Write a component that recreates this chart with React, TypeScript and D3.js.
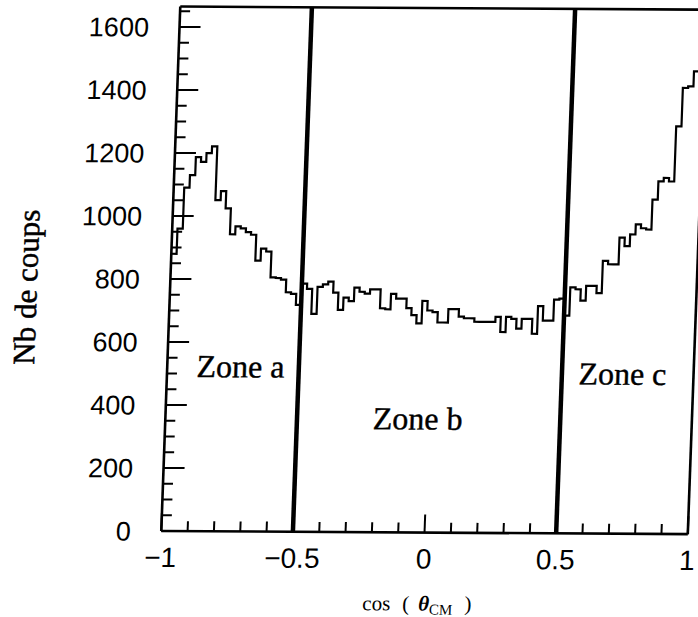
import * as d3 from 'd3';

// counts per bin of width 0.02 on cos(theta_CM), from -1 to 1
const counts = [
  880, 960, 1090, 1130, 1187, 1172, 1200, 1222, 1051, 1080,
  1025, 943, 968, 962, 950, 942, 860, 898, 889, 807,
  805, 800, 760, 755, 720, 788, 771, 692, 778, 786,
  795, 760, 705, 744, 733, 776, 763, 757, 771, 771,
  711, 708, 757, 742, 742, 712, 690, 664, 735, 705,
  700, 667, 667, 710, 710, 686, 681, 681, 670, 670,
  670, 670, 686, 638, 686, 680, 649, 680, 680, 633,
  721, 675, 675, 742, 745, 691, 781, 775, 739, 786,
  786, 763, 866, 855, 855, 940, 913, 950, 982, 970,
  966, 1061, 1119, 1130, 1119, 1294, 1416, 1421, 1469, 1480,
];
const binWidth = 0.02;
const xMajor = [-1, -0.5, 0, 0.5, 1];
const xMajorLabels = ['\u22121', '\u22120.5', '0', '0.5', '1'];
const yMajor = [0, 200, 400, 600, 800, 1000, 1200, 1400, 1600];
const zoneCuts = [-0.5, 0.5];
const zoneNames = ['Zone a', 'Zone b', 'Zone c'];

const W = 698;
const H = 617;

export default function App() {
  const x = d3.scaleLinear().domain([-1, 1]).range([180.5, 707]);
  const y = d3.scaleLinear().domain([0, 1665]).range([531, 6.5]);

  const pts: [number, number][] = counts.map((c, i) => [-1 + i * binWidth, c]);
  pts.push([1, counts[counts.length - 1]]);
  const line = d3
    .line<[number, number]>()
    .x((d) => x(d[0]))
    .y((d) => y(d[1]))
    .curve(d3.curveStepAfter);

  const yMinor = d3.range(0, 1651, 50).filter((v) => v % 200 !== 0);
  const xMinor = d3.range(-10, 11).map((i) => i / 10).filter((v) => Math.abs(v * 2 - Math.round(v * 2)) > 1e-6);

  const [x0, x1] = x.range();
  const [yb, yt] = y.range();

  // zone label anchors (data coords)
  const zonePos = [
    { cx: -0.888, cy: 489 },
    { cx: -0.212, cy: 327 },
    { cx: 0.563, cy: 473 },
  ];

  return (
    <svg width={W} height={H} style={{ position: 'absolute', left: 0, top: 0, background: '#fff' }}>
      {/* the scan is slightly sheared */}
      <g transform="matrix(1,0.006,-0.0362,1,0,-1.1)">
        {/* frame */}
        <g stroke="#000" strokeWidth={2.6} fill="none">
          <line x1={x0} x2={x0} y1={yb} y2={yt} />
          <line x1={x0} x2={x1} y1={yt} y2={yt} />
          <line x1={x0} x2={x1} y1={yb} y2={yb} />
          <line x1={x1} x2={x1} y1={yb} y2={yt} />
        </g>
        {/* ticks */}
        <g stroke="#000" strokeWidth={2}>
          {yMajor.map((v) => (
            <line key={'ym' + v} x1={x0} x2={x0 + 21} y1={y(v)} y2={y(v)} />
          ))}
          {yMinor.map((v) => (
            <line key={'yn' + v} x1={x0} x2={x0 + 10} y1={y(v)} y2={y(v)} />
          ))}
          {xMajor.map((v) => (
            <line key={'xm' + v} x1={x(v)} x2={x(v)} y1={yb} y2={yb - 18} />
          ))}
          {xMinor.map((v) => (
            <line key={'xn' + v} x1={x(v)} x2={x(v)} y1={yb} y2={yb - 10} />
          ))}
        </g>
        {/* histogram */}
        <path d={line(pts) ?? ''} fill="none" stroke="#000" strokeWidth={2.2} />
        {/* zone separators */}
        {zoneCuts.map((v) => (
          <line key={'z' + v} x1={x(v)} x2={x(v)} y1={yt} y2={yb} stroke="#000" strokeWidth={4.5} />
        ))}
        {/* tick labels */}
        <g fontFamily="'Liberation Sans', Arial, sans-serif" fontSize={27} fill="#000">
          {yMajor.map((v) => (
            <text key={'yl' + v} x={150} y={y(v)} dy="0.36em" textAnchor="end">
              {v}
            </text>
          ))}
        </g>
        <g fontFamily="'Liberation Sans', Arial, sans-serif" fontSize={28} fill="#000">
          {xMajor.map((v, i) => (
            <text key={'xl' + v} x={x(v)} y={567} textAnchor="middle">
              {xMajorLabels[i]}
            </text>
          ))}
        </g>
        {/* zone labels */}
        <g fontFamily="'Liberation Serif', serif" fontSize={32} fill="#000" stroke="#000" strokeWidth={0.4}>
          {zoneNames.map((n, i) => (
            <text key={n} x={x(zonePos[i].cx)} y={y(zonePos[i].cy)}>
              {n}
            </text>
          ))}
        </g>
        {/* axis titles */}
        <text
          transform="translate(38,288) rotate(-90)"
          textAnchor="middle"
          dy="0.3em"
          fontFamily="'Liberation Serif', serif"
          fontSize={31}
          fill="#000"
          stroke="#000"
          strokeWidth={0.5}
        >
          Nb de coups
        </text>
        <text x={x(0) - 5} y={609} textAnchor="middle" fontFamily="'Liberation Serif', serif" fontSize={21} fill="#000">
          cos
          <tspan dx={12}>(</tspan>
          <tspan dx={9} fontStyle="italic" fontWeight="bold">θ</tspan>
          <tspan fontSize={15} dy={4}>CM</tspan>
          <tspan dx={12} dy={-4}>)</tspan>
        </text>
      </g>
    </svg>
  );
}
